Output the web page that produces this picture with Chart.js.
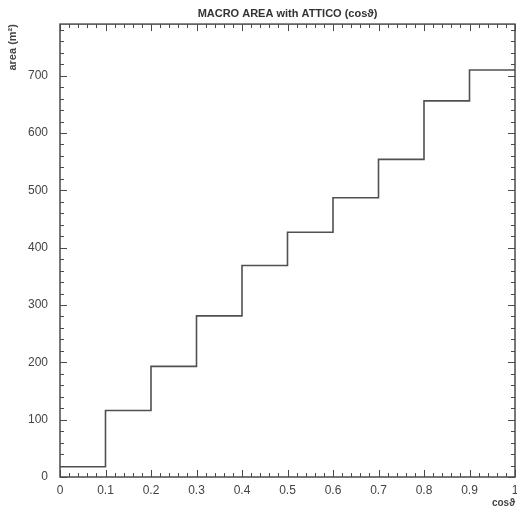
<!DOCTYPE html>
<html>
<head>
<meta charset="utf-8">
<script src="https://cdn.jsdelivr.net/npm/chart.js@4/dist/chart.umd.min.js"></script>
<style>
  body { margin: 0; background: #fff; }
</style>
</head>
<body>
<canvas id="areaChart" width="517" height="509"></canvas>
<script>
// bin lower edges in cos(theta), and the area per bin (m^2)
var binStart = [0, 0.1, 0.2, 0.3, 0.4, 0.5, 0.6, 0.7, 0.8, 0.9];
var binEnd = 1;
var areaValues = [18, 116, 193, 281, 369, 427, 487, 554, 656, 710];

var xTickValues = [0, 0.1, 0.2, 0.3, 0.4, 0.5, 0.6, 0.7, 0.8, 0.9, 1];
var xTickLabels = ["0", "0.1", "0.2", "0.3", "0.4", "0.5", "0.6", "0.7", "0.8", "0.9", "1"];
var yTickValues = [0, 100, 200, 300, 400, 500, 600, 700];
var yTickLabels = ["0", "100", "200", "300", "400", "500", "600", "700"];
var yMax = 790;

var inkColor = "#4a4a4a";
var fontFam = "'Liberation Sans', Arial, sans-serif";

// histogram outline: each bin starts at its lower edge, last bin closed at binEnd
var stepPoints = [];
for (let i = 0; i < binStart.length; i++) {
    stepPoints.push({ x: binStart[i], y: areaValues[i] });
}
stepPoints.push({ x: binEnd, y: areaValues[areaValues.length - 1] });

// frame + inward major/minor ticks on all four sides
var frameTicks = {
    id: "frameTicks",
    afterDraw: function (chart) {
        const ctx = chart.ctx;
        const a = chart.chartArea;
        const xs = chart.scales.x;
        const ys = chart.scales.y;
        ctx.save();
        ctx.strokeStyle = inkColor;
        ctx.lineWidth = 1.5;
        ctx.strokeRect(a.left, a.top, a.right - a.left, a.bottom - a.top);
        ctx.lineWidth = 1;
        ctx.beginPath();
        for (let k = 0; k <= 50; k++) {
            const v = k / 50;
            const px = Math.round(xs.getPixelForValue(v)) + 0.5;
            const len = (k % 5 === 0) ? 7 : 4;
            ctx.moveTo(px, a.bottom); ctx.lineTo(px, a.bottom - len);
            ctx.moveTo(px, a.top); ctx.lineTo(px, a.top + len);
        }
        for (let v = 0; v <= yMax; v += 20) {
            const py = Math.round(ys.getPixelForValue(v)) + 0.5;
            const len = (v % 100 === 0) ? 7 : 4;
            ctx.moveTo(a.left, py); ctx.lineTo(a.left + len, py);
            ctx.moveTo(a.right, py); ctx.lineTo(a.right - len, py);
        }
        ctx.stroke();
        ctx.restore();
    }
};

new Chart("areaChart", {
    type: "line",
    data: {
        datasets: [{
            data: stepPoints,
            stepped: "before", // horizontal first, then the jump at the bin edge
            borderColor: "#505050",
            borderWidth: 1.6,
            pointRadius: 0,
            fill: false
        }]
    },
    options: {
        responsive: false,
        animation: false,
        plugins: {
            legend: { display: false },
            tooltip: { enabled: false },
            title: {
                display: true,
                fullSize: false,
                text: "MACRO AREA with ATTICO (cosϑ)",
                color: "#333",
                font: { family: fontFam, size: 11, weight: "bold", lineHeight: 1.1 },
                padding: { top: 8, bottom: 4 }
            }
        },
        scales: {
            x: {
                type: "linear",
                min: 0,
                max: binEnd,
                grid: { display: false, drawTicks: false },
                border: { display: false },
                afterBuildTicks: function (s) {
                    s.ticks = xTickValues.map(v => ({ value: v }));
                },
                afterFit: function (s) {
                    s.height = 32;
                    s.paddingRight = 2;
                },
                ticks: {
                    color: "#444",
                    padding: 6,
                    maxRotation: 0,
                    font: { family: fontFam, size: 12 },
                    callback: function (v, i) { return xTickLabels[i]; }
                },
                title: {
                    display: true,
                    text: "cosϑ",
                    align: "end",
                    color: "#444",
                    font: { family: fontFam, size: 10, weight: "bold", lineHeight: 1.2 },
                    padding: { top: 2, bottom: 0 }
                }
            },
            y: {
                min: 0,
                max: yMax,
                grid: { display: false, drawTicks: false },
                border: { display: false },
                afterBuildTicks: function (s) {
                    s.ticks = yTickValues.map(v => ({ value: v }));
                },
                afterFit: function (s) { s.width = 60; },
                ticks: {
                    color: "#444",
                    padding: 12,
                    font: { family: fontFam, size: 12 },
                    callback: function (v, i) { return yTickLabels[i]; }
                },
                title: {
                    display: true,
                    text: "area (m²)",
                    align: "end",
                    color: "#444",
                    font: { family: fontFam, size: 11, weight: "bold", lineHeight: 1.2 },
                    padding: { top: 6, bottom: 0 }
                }
            }
        }
    },
    plugins: [frameTicks]
});
</script>
</body>
</html>
